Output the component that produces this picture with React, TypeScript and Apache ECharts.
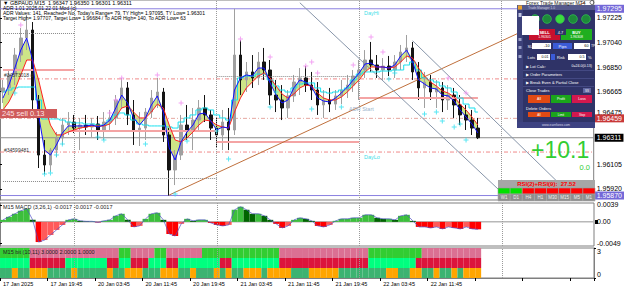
import React, { useEffect, useRef } from "react";
import * as echarts from "echarts";

const FONT = "'Liberation Sans', Arial, sans-serif";

// ---------- time axis ----------
const timeLabels = ["17 Jan 2025", "17 Jan 19:45", "20 Jan 03:45", "20 Jan 11:45", "20 Jan 19:45", "21 Jan 03:45", "21 Jan 11:45", "21 Jan 19:45", "22 Jan 03:45", "22 Jan 11:45"];
const barsPerLabel = 8;
const slotCount = 100;

// ---------- price (hourly OHLC) ----------
const candleOpen = [1.96660,1.96691,1.96790,1.96942,1.97072,1.97133,1.96599,1.96179,1.96103,1.96217,
1.96309,1.96408,1.96431,1.96385,1.96408,1.96393,1.96416,1.96370,1.96431,1.96462,
1.96599,1.96691,1.96485,1.96370,1.96385,1.96507,1.96614,1.96660,1.96332,1.96065,
1.96179,1.96408,1.96370,1.96446,1.96538,1.96485,1.96385,1.96332,1.96431,1.96370,
1.96942,1.96752,1.96813,1.96767,1.96889,1.96828,1.96637,1.96599,1.96538,1.96630,
1.96736,1.96767,1.96713,1.96675,1.96561,1.96599,1.96568,1.96630,1.96675,1.96713,
1.96782,1.96828,1.96904,1.96866,1.96828,1.96858,1.96828,1.96889,1.96965,1.96996,
1.96813,1.96691,1.96736,1.96660,1.96691,1.96599,1.96637,1.96561,1.96485,1.96446,
1.96385];
const candleClose = [1.96691,1.96790,1.96942,1.97072,1.97133,1.96599,1.96179,1.96103,1.96217,1.96309,
1.96408,1.96431,1.96385,1.96408,1.96393,1.96416,1.96370,1.96431,1.96462,1.96599,
1.96691,1.96485,1.96370,1.96385,1.96507,1.96614,1.96660,1.96332,1.96065,1.96179,
1.96408,1.96370,1.96446,1.96538,1.96485,1.96385,1.96332,1.96431,1.96370,1.96942,
1.96752,1.96813,1.96767,1.96889,1.96828,1.96637,1.96599,1.96538,1.96630,1.96736,
1.96767,1.96713,1.96675,1.96561,1.96599,1.96568,1.96630,1.96675,1.96713,1.96782,
1.96828,1.96904,1.96866,1.96828,1.96858,1.96828,1.96889,1.96965,1.96996,1.96813,
1.96691,1.96736,1.96660,1.96691,1.96599,1.96637,1.96561,1.96485,1.96446,1.96385,
1.96311];
const candleHigh = [1.96752,1.96828,1.96996,1.97148,1.97248,1.97194,1.96637,1.96294,1.96233,1.96355,
1.96462,1.96507,1.96485,1.96462,1.96485,1.96462,1.96477,1.96507,1.96523,1.96637,
1.96767,1.96736,1.96599,1.96507,1.96538,1.96675,1.96767,1.96691,1.96385,1.96217,
1.96485,1.96561,1.96538,1.96599,1.96637,1.96523,1.96462,1.96523,1.96538,1.97295,
1.97057,1.96889,1.96942,1.96965,1.96996,1.96904,1.96752,1.96713,1.96675,1.96790,
1.96843,1.96858,1.96813,1.96736,1.96675,1.96691,1.96675,1.96752,1.96790,1.96828,
1.96904,1.96980,1.97042,1.96942,1.96919,1.96935,1.96942,1.97019,1.97095,1.97042,
1.96889,1.96813,1.96790,1.96752,1.96736,1.96713,1.96691,1.96637,1.96561,1.96523,
1.96462];
const candleLow = [1.96576,1.96637,1.96713,1.96889,1.96980,1.96523,1.96080,1.96034,1.96050,1.96164,
1.96256,1.96332,1.96347,1.96217,1.96332,1.96317,1.96294,1.96294,1.96355,1.96408,
1.96538,1.96408,1.96256,1.96248,1.96294,1.96462,1.96538,1.96279,1.95870,1.95950,
1.96141,1.96294,1.96217,1.96370,1.96431,1.96294,1.96233,1.96217,1.96217,1.96332,
1.96637,1.96660,1.96691,1.96713,1.96752,1.96561,1.96507,1.96446,1.96462,1.96584,
1.96637,1.96660,1.96599,1.96485,1.96462,1.96507,1.96523,1.96568,1.96614,1.96660,
1.96599,1.96767,1.96813,1.96767,1.96752,1.96782,1.96767,1.96828,1.96889,1.96752,
1.96599,1.96538,1.96599,1.96538,1.96507,1.96523,1.96462,1.96408,1.96370,1.96332,
1.96301];

// ---------- indicator lines on price ----------
const maFast = [1.96614,1.96713,1.96843,1.96980,1.97072,1.96904,1.96485,1.96217,1.96179,1.96256,
1.96347,1.96401,1.96401,1.96401,1.96401,1.96408,1.96393,1.96408,1.96446,1.96538,
1.96637,1.96576,1.96462,1.96408,1.96462,1.96561,1.96630,1.96507,1.96233,1.96141,
1.96279,1.96355,1.96408,1.96492,1.96500,1.96439,1.96370,1.96393,1.96385,1.96675,
1.96767,1.96790,1.96782,1.96843,1.96843,1.96729,1.96637,1.96576,1.96599,1.96691,
1.96752,1.96736,1.96698,1.96614,1.96591,1.96584,1.96614,1.96652,1.96698,1.96752,
1.96805,1.96874,1.96881,1.96851,1.96851,1.96843,1.96866,1.96935,1.96980,1.96889,
1.96752,1.96721,1.96691,1.96683,1.96637,1.96630,1.96591,1.96523,1.96469,1.96416,
1.96347];
const maSlow = [1.96523,1.96584,1.96675,1.96790,1.96904,1.96904,1.96752,1.96561,1.96408,1.96332,
1.96332,1.96355,1.96370,1.96385,1.96393,1.96401,1.96401,1.96401,1.96416,1.96469,
1.96538,1.96553,1.96507,1.96462,1.96462,1.96507,1.96568,1.96538,1.96408,1.96294,
1.96279,1.96309,1.96355,1.96408,1.96446,1.96439,1.96408,1.96393,1.96385,1.96507,
1.96614,1.96691,1.96736,1.96782,1.96805,1.96767,1.96706,1.96645,1.96614,1.96645,
1.96691,1.96713,1.96706,1.96652,1.96614,1.96599,1.96599,1.96622,1.96660,1.96706,
1.96752,1.96813,1.96851,1.96851,1.96851,1.96843,1.96851,1.96889,1.96935,1.96919,
1.96843,1.96782,1.96736,1.96706,1.96668,1.96652,1.96622,1.96568,1.96523,1.96469,
1.96408];
const trailLine = [1.96660,1.96675,1.96691,1.96698,1.96698,1.96698,1.96599,1.96454,1.96454,1.96454,
1.96446,1.96431,1.96424,1.96424,1.96416,1.96416,1.96408,1.96408,1.96446,1.96485,
1.96500,1.96485,1.96446,1.96416,1.96408,1.96401,1.96401,1.96401,1.96393,1.96385,
1.96431,1.96462,1.96485,1.96523,1.96538,1.96523,1.96485,1.96462,1.96446,1.96599,
1.96767,1.96782,1.96782,1.96797,1.96797,1.96752,1.96706,1.96675,1.96660,1.96691,
1.96721,1.96729,1.96729,1.96691,1.96660,1.96652,1.96660,1.96675,1.96691,1.96752,
1.96797,1.96813,1.96813,1.96813,1.96820,1.96820,1.96828,1.96828,1.96866,1.96889,
1.96828,1.96767,1.96752,1.96736,1.96706,1.96691,1.96660,1.96614,1.96568,1.96538,
1.96507];

// fractal markers
const fractalUpIdx = [3,18,19,20,26,30,40,45,51,52,53,59,62,64,75,78];
const fractalUpPrice = [1.97171,1.96500,1.96599,1.96767,1.96790,1.96576,1.97064,1.96927,1.96858,1.96889,1.96805,1.96866,1.97080,1.96965,1.96767,1.96652];
const fractalDnIdx = [2,7,8,9,10,16,17,24,29,31,36,38,45,46,52,57,65,66,71,73,74,76,77,78];
const fractalDnPrice = [1.96652,1.96034,1.96042,1.96179,1.96263,1.96317,1.96294,1.96263,1.95882,1.96286,1.96362,1.96149,1.96546,1.96660,1.96530,1.96546,1.96759,1.96805,1.96492,1.96507,1.96439,1.96393,1.96416,1.96294];

// horizontal levels
const weekHigh = 1.97295;
const weekLow = 1.95870;
const lastPrice = 1.96311;
const orderPrice = 1.96459;
const dashLevels = [1.96760, 1.96202];
const srStart = [0, 11, 36, 60];
const srEnd = [12, 36, 60, 80];
const srPrice = [1.96828, 1.96362, 1.96279, 1.96614];
const boxStart = [0, 0, 12, 36];
const boxEnd = [12, 12, 36, 60];
const boxPrice = [1.97110, 1.95981, 1.96004, 1.96782];
const daySepIdx = [12, 36, 60, 84];
// trend lines [startIdx, startPrice, endIdx, endPrice]
const trendBrown = [28, 1.95874, 98, 1.97344];
const channelA = [50, 1.97341, 85, 1.95851];
const channelB = [69, 1.97051, 96, 1.95860];

const priceMin = 1.95836;
const priceMax = 1.97362;
const priceTicks = [1.97225, 1.97040, 1.96850, 1.96665, 1.96475, 1.96105, 1.95920];

// ---------- MACD ----------
const macdHist = [0.00046,0.00115,0.00184,0.00253,0.00299,0.00046,-0.00460,-0.00414,-0.00299,-0.00184,
-0.00069,0.00046,0.00069,0.00023,0.00012,0.00012,-0.00012,0.00023,0.00046,0.00138,
0.00184,0.00046,-0.00115,-0.00092,0.00069,0.00184,0.00207,0.00046,-0.00276,-0.00322,
-0.00046,0.00069,0.00023,0.00046,0.00046,-0.00023,-0.00069,-0.00092,-0.00069,0.00276,
0.00345,0.00276,0.00184,0.00184,0.00138,0.00046,-0.00046,-0.00138,-0.00092,0.00046,
0.00092,0.00069,0.00023,-0.00092,-0.00115,-0.00069,0.00023,0.00069,0.00069,0.00092,
0.00092,0.00161,0.00161,0.00092,0.00069,0.00069,0.00046,0.00138,0.00161,0.00023,
-0.00115,-0.00115,-0.00138,-0.00115,-0.00161,-0.00115,-0.00138,-0.00161,-0.00115,-0.00161,
-0.00170];
const macdTicks = [0.0039, 0, -0.0049];

// ---------- bit indicator (1 = green state, 0 = other) ----------
const bitRow1 = [1,1,1,1,1, 0,0,0,0,0,0,0,0,0,0,0,0,0,0,0, 1,1, 0,0,0,0, 1,1, 0,0,0,0,0,0, 1,1,1,1,1,1,1,1,1,1,1,1,1, 0,0,0,0,0,0,0,0,0,0,0,0,0,0,0, 1,1,1,1,1,1,1,1,1, 0,0,0,0,0,0,0,0,0,0];
const bitRow2 = [1,1,1,1,1, 0,0,0,0,0,0, 1,1,1,1,1,1,1, 0,0, 1,1, 0,0,0, 1,1,1, 0,0, 1,1,1,1,1,1,1, 0,0, 1,1,1,1,1,1,1,1, 0,0,0,0,0,0,0,0,0,0,0,0,0,0,0, 1,1,1,1,1,1,1,1, 0,0,0,0,0,0,0,0,0,0,0];
const bitRow3 = [1,1,0,1,1,0,0,0,1,1,1,1,0,1,1,1,1,1,0,1,1,0,0,0,1,1,1,0,0,0,1,1,0,1,1,1,0,1,0,1,1,0,0,0,1,0,0,0,0,1,1,1,0,0,0,0,0,1,1,1,1,1,1,1,1,0,0,1,1,0,0,1,1,0,1,1,0,1,0,0,0];
const bitTicks = [0, 3];

const tfLabels = ["W1", "D1", "H4", "H1", "M30", "M15", "M5", "M1"];
const tfState = [1, 1, 0, 0, 0, 0, 0, 0];

function buildOption() {
  const cats = Array.from({ length: slotCount }, (_, i) => "s" + i);
  const candles = candleOpen.map((o, i) => [o, candleClose[i], candleLow[i], candleHigh[i]]);
  const cloudLow = maFast.map((v, i) => Math.min(v, maSlow[i]));
  const cloudBand = maFast.map((v, i) => Math.abs(v - maSlow[i]));
  const plus = "path://M2,0H3V2H5V3H3V5H2V3H0V2H2Z";
  const dashDot = [4, 2, 1, 2];

  const axisLbl = { fontSize: 7, color: "#000", fontFamily: FONT, margin: 3 };

  // full-width level lines drawn on a hidden value x-axis spanning the grid (0..1)
  const level = (v: number, color: string, type: any, labelBg?: string) => ({
    type: "line", xAxisIndex: 3, yAxisIndex: 0, data: [[0, v], [1, v]], symbol: "none", silent: true, z: 3,
    lineStyle: { color, width: 1, type },
    endLabel: labelBg
      ? { show: true, formatter: v.toFixed(5), backgroundColor: labelBg, color: "#fff", fontSize: 7, fontFamily: FONT, padding: [1, 2, 0, 2], distance: 1 }
      : { show: false },
  });

  const segs: any[] = [];
  srPrice.forEach((p, k) => segs.push([{ coord: [srStart[k], p] }, { coord: [srEnd[k], p], lineStyle: { color: "#f4a4a4", width: 2, type: "solid" } }]));
  boxPrice.forEach((p, k) => segs.push([{ coord: [boxStart[k], p] }, { coord: [boxEnd[k], p], lineStyle: { color: "#8a8a8a", width: 1, type: "dotted" } }]));
  const tl = (a: number[], color: string) => [{ coord: [a[0], a[1]] }, { coord: [a[2], a[3]], lineStyle: { color, width: 1, type: "solid" } }];
  segs.push(tl(trendBrown, "#c0703c"));
  segs.push(tl(channelA, "#8896aa"));
  segs.push(tl(channelB, "#8896aa"));
  const daySeps = daySepIdx.map((x) => ({ xAxis: x, lineStyle: { color: "#9a9a9a", width: 1, type: "dotted" } }));

  const macdColors = macdHist.map((v, i) => {
    const prev = i > 0 ? macdHist[i - 1] : 0;
    if (v >= 0) return v >= prev ? "#3cbf3c" : "#006400";
    return v <= prev ? "#ff0000" : "#ff5a5a";
  });

  const sepMarks = () => ({ silent: true, symbol: ["none", "none"], label: { show: false }, data: daySeps });

  // ---------- graphic overlays ----------
  const g: any[] = [];
  const T = (x: number, y: number, text: string, size: number, fill: string, align = "left", weight = "normal", z = 103) =>
    g.push({ type: "text", x, y, z, silent: true, style: { text, fill, fontSize: size, fontFamily: FONT, fontWeight: weight, align, verticalAlign: "middle" } });
  const R = (x: number, y: number, w: number, h: number, fill: string, stroke?: string, z = 101) =>
    g.push({ type: "rect", z, silent: true, shape: { x, y, width: w, height: h }, style: { fill, stroke: stroke || undefined, lineWidth: stroke ? 0.6 : 0 } });
  const C = (cx: number, cy: number, r: number, fill: string, stroke: string, z = 102) =>
    g.push({ type: "circle", z, silent: true, shape: { cx, cy, r }, style: { fill, stroke, lineWidth: 0.8 } });

  // header texts
  T(3, 3, "▼ GBPAUD,M15  1.96347 1.96350 1.96301 1.96311", 5.5, "#000");
  T(3, 8, "ADR 1.01 2025.01.22 01 Mod (c)", 5, "#000");
  T(3, 13, "ADR Values: 141, Reached= No, Today's Range= 79, TY High= 1.97095, TY Low= 1.96301", 5, "#000");
  T(3, 17.5, "Target High= 1.97707, Target Low= 1.96684 / To ADR High= 140, To ADR Low= 63", 5, "#000");

  // chart labels
  T(364, 13, "DayHi", 5.5, "#3fe0e8");
  T(349, 109, "ADR Start", 5.5, "#9ab4cc");
  T(364, 157, "DayLo", 5.5, "#3fe0e8");
  T(4, 74.5, "#34573018 d", 5, "#333");
  R(0, 109, 57, 9, "#cf5b5b");
  T(2, 113.5, "245 sell 0.13", 7.5, "#fde4e4");
  T(4, 149.5, "#34599481", 5, "#333");

  // trade manager panel
  T(526, 2.5, "Forex Trade Manager MT4", 5, "#222");
  C(592, 2.5, 2, "none", "#444");
  R(517, 5, 78, 123, "#2f3367");
  R(517, 5, 78, 5, "#555a8c");
  T(528, 7.5, "Trade Manager 1.0", 3.2, "#d0d0e0");
  R(518, 5.5, 4, 4, "#e8a030", undefined, 102);
  R(517, 10, 6, 113, "#3b4079", undefined, 102);
  R(518.5, 13, 3, 4, "#c0c4e0", undefined, 103);
  R(518.5, 38, 3, 3, "#9aa0c8", undefined, 103);
  R(518.5, 46, 3, 3, "#9aa0c8", undefined, 103);
  R(518.5, 55, 3, 3, "#9aa0c8", undefined, 103);
  [535, 547, 560, 573, 586].forEach((cx, k) => C(cx, 19, 4.3, k === 2 ? "#3ddc3d" : "#1e8a3a", "#2fbf4f"));
  R(522, 16, 17, 19, "#ffffff", undefined, 103);
  R(529, 29, 31, 11, "#c8102e", undefined, 102);
  T(544.5, 32, "SELL", 4, "#fff", "center", "bold", 104);
  T(544.5, 37, "1.96301", 3.5, "#fff", "center", "normal", 104);
  R(561, 29, 31, 11, "#1fae1f", undefined, 102);
  T(576.5, 32, "BUY", 4, "#fff", "center", "bold", 104);
  T(576.5, 37, "1.96308", 3.5, "#fff", "center", "normal", 104);
  R(555, 29, 11, 6, "#2f3367", undefined, 103);
  T(560.5, 32, "4.7", 4, "#fff", "center", "normal", 104);
  T(527.5, 46, "SL", 4, "#fff");
  R(532, 43, 19, 6, "#fff", undefined, 102);
  T(549.5, 46, "-10", 3.8, "#000", "right");
  R(553, 43, 19, 6, "#3b5bd6", undefined, 102);
  T(562.5, 46, "Pips", 4, "#fff", "center");
  R(574, 43, 16, 6, "#fff", undefined, 102);
  T(588.5, 46, "60", 3.8, "#000", "right");
  T(591, 46, "TP", 3.4, "#fff");
  T(527.5, 57, "Lots", 4, "#fff");
  R(537, 54, 13, 6, "#fff", undefined, 102);
  T(548.5, 57, "0.01", 3.6, "#000", "right");
  R(551, 54, 4, 6, "#3b5bd6", undefined, 102);
  T(557, 57, "Risk", 4, "#fff");
  R(568, 54, 18, 6, "#fff", undefined, 102);
  T(584.5, 57, "0.5", 3.6, "#000", "right");
  T(588, 57, "%", 4, "#fff");
  T(526, 66, "▶ Lot Calc:", 4, "#fff");
  T(592, 66, "0=24.0(0.13)", 3.6, "#fff", "right");
  R(523, 70, 71, 0.6, "#5a60a0", undefined, 102);
  T(526, 74, "▶ Order Parameters", 4, "#fff");
  R(523, 78, 71, 0.6, "#5a60a0", undefined, 102);
  T(526, 82, "▶ Break Even & Partial Close", 4, "#fff");
  R(523, 86, 71, 0.6, "#5a60a0", undefined, 102);
  T(526, 90, "Close Trades", 4, "#fff");
  R(583, 88, 8, 5, "#6066a0", undefined, 102);
  T(587, 90.5, "SS", 3, "#fff", "center");
  R(528, 95, 22, 8, "#e24a14", undefined, 102);
  R(551, 95, 20, 8, "#1ba51b", undefined, 102);
  R(572, 95, 20, 8, "#d2184e", undefined, 102);
  T(539, 99, "All", 3.5, "#fff", "center");
  T(561, 99, "Profit", 3.5, "#fff", "center");
  T(582, 99, "Loss", 3.5, "#fff", "center");
  T(526, 108, "Delete Orders", 4, "#fff");
  R(528, 112, 22, 5, "#e24a14", undefined, 102);
  R(551, 112, 20, 5, "#1ba51b", undefined, 102);
  R(572, 112, 20, 5, "#d2184e", undefined, 102);
  T(539, 114.5, "All", 3, "#fff", "center");
  T(561, 114.5, "Limit", 3, "#fff", "center");
  T(582, 114.5, "Stop", 3, "#fff", "center");
  R(517, 122, 78, 6, "#3d4282", undefined, 102);
  T(556, 125, "www.earnforex.com", 3.2, "#d8d8e8", "center");

  // profit display
  T(531, 149.5, "+10.1", 23, "#32cd32");
  T(590, 167.5, "0.0", 7.5, "#32cd32", "right");

  // RSI strength box
  R(498, 180, 97, 8, "#a6a6a6");
  T(546.5, 184, "RSI(2)+RSI(9):  27.52", 6, "#ff0000", "center", "bold");
  const cw = 97 / tfLabels.length;
  tfLabels.forEach((lab, k) => {
    R(498 + k * cw, 188, cw, 6, tfState[k] ? "#00e000" : "#ff0000", "#9a9a9a", 102);
    R(498 + k * cw, 194, cw, 7, "#8e8e8e", "#a8a8a8", 102);
    T(498 + k * cw + cw / 2, 197.8, lab, 4.5, "#f0f0f0", "center");
  });

  // sub-window titles
  T(3, 207, "M15 MACD (3,26,1) -0.0017 -0.0017 -0.0017", 5.5, "#222");
  T(3, 252, "M15 bit (10,11) 3.0000 2.0000 1.0000", 5.5, "#222");
  R(595, 220, 3, 4, "#000");

  const gridBase = { show: true, borderColor: "#7f7f7f", borderWidth: 1, backgroundColor: "transparent" };
  const hiddenX = (gi: number) => ({
    type: "category", gridIndex: gi, data: cats, boundaryGap: true,
    axisLine: { show: false }, axisTick: { show: false }, axisLabel: { show: false }, splitLine: { show: false },
  });
  const spanX = (gi: number) => ({ type: "value", gridIndex: gi, min: 0, max: 1, show: false });

  return {
    animation: false,
    backgroundColor: "#ffffff",
    textStyle: { fontFamily: FONT },
    grid: [
      { ...gridBase, left: 0, top: 0, width: 594, height: 200 },
      { ...gridBase, left: 0, top: 203, width: 594, height: 43 },
      { ...gridBase, left: 0, top: 248, width: 594, height: 30 },
    ],
    xAxis: [
      hiddenX(0),
      hiddenX(1),
      {
        type: "category", gridIndex: 2, data: cats, boundaryGap: true,
        axisLine: { show: true, lineStyle: { color: "#7f7f7f" } },
        axisTick: { show: true, interval: barsPerLabel - 1, length: 3, lineStyle: { color: "#000" } },
        axisLabel: {
          show: true, interval: barsPerLabel - 1, align: "left", fontSize: 5.5, color: "#000", fontFamily: FONT, margin: 3,
          formatter: (_v: string, idx: number) => (idx % barsPerLabel === 0 && timeLabels[idx / barsPerLabel]) || "",
        },
        splitLine: { show: false },
      },
      spanX(0),
      spanX(1),
    ],
    yAxis: [
      {
        type: "value", gridIndex: 0, position: "right", min: priceMin, max: priceMax, scale: true,
        splitLine: { show: false }, axisLine: { show: true, lineStyle: { color: "#7f7f7f" } },
        axisTick: { show: true, length: 2, customValues: priceTicks, lineStyle: { color: "#000" } },
        axisLabel: {
          ...axisLbl, customValues: priceTicks,
          // the tick right above the order label is nudged up so the two do not collide
          formatter: (v: number) => (Math.abs(v - orderPrice) < 0.0003 ? "{up|" + v.toFixed(5) + "}" : v.toFixed(5)),
          rich: { up: { fontSize: 7, color: "#000", fontFamily: FONT, padding: [0, 0, 8, 0] } },
        },
      },
      {
        type: "value", gridIndex: 1, position: "right", min: -0.0055, max: 0.0043,
        splitLine: { show: false }, axisLine: { show: true, lineStyle: { color: "#7f7f7f" } },
        axisTick: { show: true, length: 2, customValues: macdTicks, lineStyle: { color: "#000" } },
        axisLabel: { ...axisLbl, customValues: macdTicks, formatter: (v: number) => (v === 0 ? "0.00" : v.toFixed(4)) },
      },
      {
        type: "value", gridIndex: 2, position: "right", min: 0, max: 3,
        splitLine: { show: false }, axisLine: { show: true, lineStyle: { color: "#7f7f7f" } },
        axisTick: { show: true, length: 2, customValues: bitTicks, lineStyle: { color: "#000" } },
        axisLabel: { ...axisLbl, customValues: bitTicks, formatter: (v: number) => String(v), verticalAlignMinLabel: "bottom", verticalAlignMaxLabel: "top" },
      },
    ],
    series: [
      { type: "line", name: "cloudBase", xAxisIndex: 0, yAxisIndex: 0, stack: "cloud", data: cloudLow, symbol: "none", silent: true, lineStyle: { opacity: 0 }, z: 1 },
      { type: "line", name: "cloud", xAxisIndex: 0, yAxisIndex: 0, stack: "cloud", data: cloudBand, symbol: "none", silent: true, lineStyle: { opacity: 0 }, areaStyle: { color: "#c9e27a", opacity: 0.9 }, z: 1 },
      level(dashLevels[0], "#f08a8a", dashDot),
      level(dashLevels[1], "#f08a8a", dashDot),
      level(orderPrice, "#e6a7a0", dashDot, "#c83838"),
      level(lastPrice, "#8c8c8c", "solid", "#000000"),
      level(weekHigh, "#8b80e0", "solid", "#7468d8"),
      level(weekLow, "#8b80e0", "solid", "#7468d8"),
      {
        type: "candlestick", name: "GBPAUD", xAxisIndex: 0, yAxisIndex: 0, data: candles, barWidth: 3, z: 4,
        itemStyle: { color: "#a0a0a0", color0: "#141414", borderColor: "#a0a0a0", borderColor0: "#141414", borderWidth: 1 },
      },
      { type: "line", name: "trail", xAxisIndex: 0, yAxisIndex: 0, data: trailLine, step: "middle", symbol: "none", lineStyle: { color: "#18e0ee", width: 1 }, z: 5 },
      {
        type: "line", name: "slow", xAxisIndex: 0, yAxisIndex: 0, data: maSlow, symbol: "none", lineStyle: { color: "#ff2020", width: 1 }, z: 6,
        markLine: { silent: true, symbol: ["none", "none"], label: { show: false }, data: [...daySeps, ...segs] },
      },
      { type: "line", name: "fast", xAxisIndex: 0, yAxisIndex: 0, data: maFast, symbol: "none", lineStyle: { color: "#1010ff", width: 1 }, z: 7 },
      { type: "scatter", name: "fractalUp", xAxisIndex: 0, yAxisIndex: 0, data: fractalUpIdx.map((x, k) => [x, fractalUpPrice[k]]), symbol: plus, symbolSize: 5, itemStyle: { color: "#f08cf0" }, z: 8 },
      { type: "scatter", name: "fractalDn", xAxisIndex: 0, yAxisIndex: 0, data: fractalDnIdx.map((x, k) => [x, fractalDnPrice[k]]), symbol: plus, symbolSize: 5, itemStyle: { color: "#30e0f0" }, z: 8 },
      {
        type: "line", name: "macdZero", xAxisIndex: 4, yAxisIndex: 1, data: [[0, 0], [1, 0]], symbol: "none", silent: true,
        lineStyle: { color: "#b8b8b8", width: 1.5 }, z: 1,
      },
      {
        type: "bar", name: "MACD", xAxisIndex: 1, yAxisIndex: 1, barCategoryGap: "0%", z: 2,
        data: macdHist.map((v, i) => ({ value: v, itemStyle: { color: macdColors[i] } })),
        markLine: sepMarks(),
      },
      { type: "line", name: "MACDline", xAxisIndex: 1, yAxisIndex: 1, data: macdHist, symbol: "none", lineStyle: { color: "#5050c8", width: 0.7 }, z: 3 },
      {
        type: "bar", name: "bit3", xAxisIndex: 2, yAxisIndex: 2, stack: "bit", barCategoryGap: "0%",
        data: bitRow3.map((s) => ({ value: 1, itemStyle: { color: s ? "#3cb371" : "#ffa500" } })),
        markLine: sepMarks(),
      },
      { type: "bar", name: "bit2", xAxisIndex: 2, yAxisIndex: 2, stack: "bit", barCategoryGap: "0%", data: bitRow2.map((s) => ({ value: 1, itemStyle: { color: s ? "#00ff7f" : "#dc143c" } })) },
      { type: "bar", name: "bit1", xAxisIndex: 2, yAxisIndex: 2, stack: "bit", barCategoryGap: "0%", data: bitRow1.map((s) => ({ value: 1, itemStyle: { color: s ? "#32cd32" : "#db7093" } })) },
    ],
    graphic: g,
  };
}

export default function App() {
  const ref = useRef<HTMLDivElement>(null);
  useEffect(() => {
    document.body.style.margin = "0";
    const chart = echarts.init(ref.current as HTMLDivElement, null, { renderer: "svg" });
    chart.setOption(buildOption() as any);
    return () => chart.dispose();
  }, []);
  return <div ref={ref} style={{ position: "absolute", left: 0, top: 0, width: 625, height: 288, background: "#fff" }} />;
}
